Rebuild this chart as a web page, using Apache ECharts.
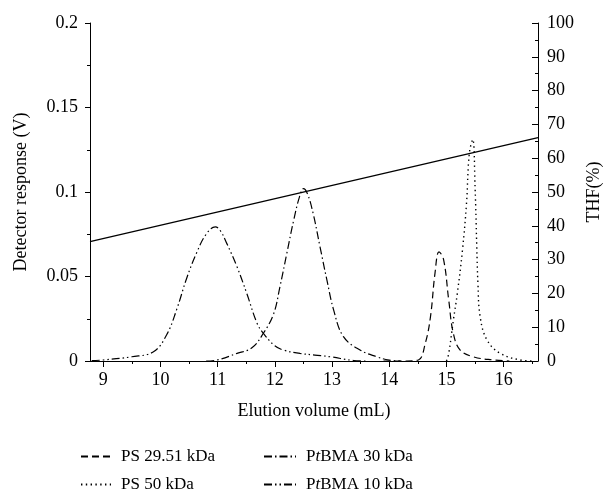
<!DOCTYPE html>
<html>
<head>
<meta charset="utf-8">
<script src="https://cdn.jsdelivr.net/npm/echarts@6/dist/echarts.min.js"></script>
<style>
  html, body { margin: 0; padding: 0; background: #ffffff; }
  #main { width: 608px; height: 493px; }
</style>
</head>
<body>
<div id="main"></div>
<script>
// tick labels of the elution volume axis (mL)
var xTicks = [9, 10, 11, 12, 13, 14, 15, 16];
var xMinorTicks = [9.5, 10.5, 11.5, 12.5, 13.5, 14.5, 15.5, 16.5];

// detector response (V), [volume, response]
var ps29 = [
  [13.9, 0], [14.3, 0], [14.51, 0.0006], [14.63, 0.0105], [14.72, 0.026], [14.8, 0.052],
  [14.87, 0.0646], [14.95, 0.06], [15.04, 0.036], [15.12, 0.0164], [15.24, 0.0065],
  [15.47, 0.0025], [15.82, 0.0006], [16.1, 0]
];
var ps50 = [
  [15.0, 0], [15.04, 0.0045], [15.12, 0.024], [15.19, 0.04], [15.28, 0.0656], [15.35, 0.093],
  [15.4, 0.123], [15.46, 0.131], [15.5, 0.103], [15.53, 0.0676], [15.55, 0.046],
  [15.59, 0.026], [15.71, 0.0124], [15.94, 0.0045], [16.29, 0.0006], [16.5, 0]
];
var ptbma30 = [
  [10.8, 0], [10.99, 0.0006], [11.34, 0.0045], [11.6, 0.0078], [11.8, 0.0164], [11.98, 0.028],
  [12.09, 0.044], [12.21, 0.0637], [12.33, 0.0833], [12.43, 0.097], [12.5, 0.102],
  [12.57, 0.099], [12.67, 0.0873], [12.79, 0.0676], [12.91, 0.048], [13.03, 0.03],
  [13.2, 0.0144], [13.49, 0.0065], [13.78, 0.0025], [14.0, 0.0005], [14.2, 0]
];
var ptbma10 = [
  [8.8, 0.0002], [9.0, 0.0006], [9.5, 0.0025], [9.88, 0.0055], [10.11, 0.0155], [10.29, 0.031],
  [10.46, 0.049], [10.64, 0.0645], [10.8, 0.075], [10.96, 0.0794], [11.05, 0.077],
  [11.16, 0.0696], [11.34, 0.0557], [11.51, 0.04], [11.69, 0.0223], [11.8, 0.0164],
  [12.0, 0.009], [12.15, 0.0065], [12.44, 0.0045], [12.7, 0.0035], [12.97, 0.0025],
  [13.38, 0.0003], [13.6, 0]
];
// THF gradient (%), right axis
var thf = [[8.77, 35.3], [16.6, 66.1]];

var serif = 'Liberation Serif';
var black = '#000000';

var chart = echarts.init(document.getElementById('main'));

function curve(name, data, dash, width) {
  return {
    name: name,
    type: 'line',
    data: data,
    xAxisIndex: 0,
    yAxisIndex: 0,
    showSymbol: false,
    symbol: 'none',
    smooth: 0.4,
    silent: true,
    lineStyle: { color: black, width: width || 1.2, type: dash, cap: 'butt' },
    itemStyle: { color: black }
  };
}

var legendText = {
  color: black,
  fontFamily: serif,
  fontSize: 17,
  padding: [0, 0, 0, 5],
  rich: {
    it: { fontFamily: serif, fontSize: 17, fontStyle: 'italic', color: black }
  }
};

var option = {
  backgroundColor: '#ffffff',
  animation: false,
  grid: { left: 90, right: 70, top: 23, bottom: 132, outerBoundsMode: 'none' },
  legend: [
    {
      data: ['PS 29.51 kDa', 'PS 50 kDa'],
      orient: 'vertical',
      left: 80, top: 448, padding: 0,
      itemWidth: 30, itemHeight: 14, itemGap: 11,
      itemStyle: { opacity: 0 },
      textStyle: legendText
    },
    {
      data: ['PtBMA 30 kDa', 'PtBMA 10 kDa'],
      orient: 'vertical',
      left: 263, top: 448, padding: 0,
      itemWidth: 32, itemHeight: 14, itemGap: 11,
      itemStyle: { opacity: 0 },
      textStyle: legendText,
      formatter: function (name) { return name.replace('PtBMA', 'P{it|t}BMA'); }
    }
  ],
  xAxis: [
    {
      type: 'value', min: 8.77, max: 16.6, position: 'bottom',
      name: 'Elution volume (mL)', nameLocation: 'middle', nameGap: 41,
      nameTextStyle: { color: black, fontFamily: serif, fontSize: 18 },
      axisLine: { show: true, lineStyle: { color: black, width: 1 } },
      axisTick: { show: true, customValues: xTicks, length: 6, lineStyle: { color: black } },
      axisLabel: { customValues: xTicks, color: black, fontFamily: serif, fontSize: 18, margin: 10 },
      splitLine: { show: false }
    },
    {
      // half-unit minor ticks
      type: 'value', min: 8.77, max: 16.6, position: 'bottom',
      axisLine: { show: false },
      axisTick: { show: true, customValues: xMinorTicks, length: 3, lineStyle: { color: black } },
      axisLabel: { show: false },
      splitLine: { show: false }
    }
  ],
  yAxis: [
    {
      type: 'value', min: 0, max: 0.2, interval: 0.05, position: 'left',
      name: 'Detector response (V)', nameLocation: 'middle', nameGap: 60, nameRotate: 90,
      nameTextStyle: { color: black, fontFamily: serif, fontSize: 18 },
      axisLine: { show: true, lineStyle: { color: black, width: 1 } },
      axisTick: { show: true, length: 5, lineStyle: { color: black } },
      minorTick: { show: true, splitNumber: 2, length: 3, lineStyle: { color: black } },
      axisLabel: { color: black, fontFamily: serif, fontSize: 18, margin: 12 },
      splitLine: { show: false }
    },
    {
      type: 'value', min: 0, max: 100, interval: 10, position: 'right',
      name: 'THF(%)', nameLocation: 'middle', nameGap: 46, nameRotate: 90,
      nameTextStyle: { color: black, fontFamily: serif, fontSize: 18 },
      axisLine: { show: true, lineStyle: { color: black, width: 1 } },
      axisTick: { show: true, inside: true, length: 6, lineStyle: { color: black } },
      minorTick: { show: true, splitNumber: 2, length: 3, lineStyle: { color: black } },
      axisLabel: { color: black, fontFamily: serif, fontSize: 18, margin: 9 },
      splitLine: { show: false }
    }
  ],
  series: [
    curve('PS 29.51 kDa', ps29, [7, 4]),
    curve('PS 50 kDa', ps50, [1.4, 3.4], 1.4),
    curve('PtBMA 30 kDa', ptbma30, [8, 3, 1.5, 3]),
    curve('PtBMA 10 kDa', ptbma10, [8, 3, 1.5, 3, 1.5, 3]),
    {
      name: 'THF',
      type: 'line',
      data: thf,
      xAxisIndex: 0,
      yAxisIndex: 1,
      showSymbol: false,
      symbol: 'none',
      silent: true,
      lineStyle: { color: black, width: 1.3, type: 'solid' }
    }
  ]
};

chart.setOption(option);
</script>
</body>
</html>
